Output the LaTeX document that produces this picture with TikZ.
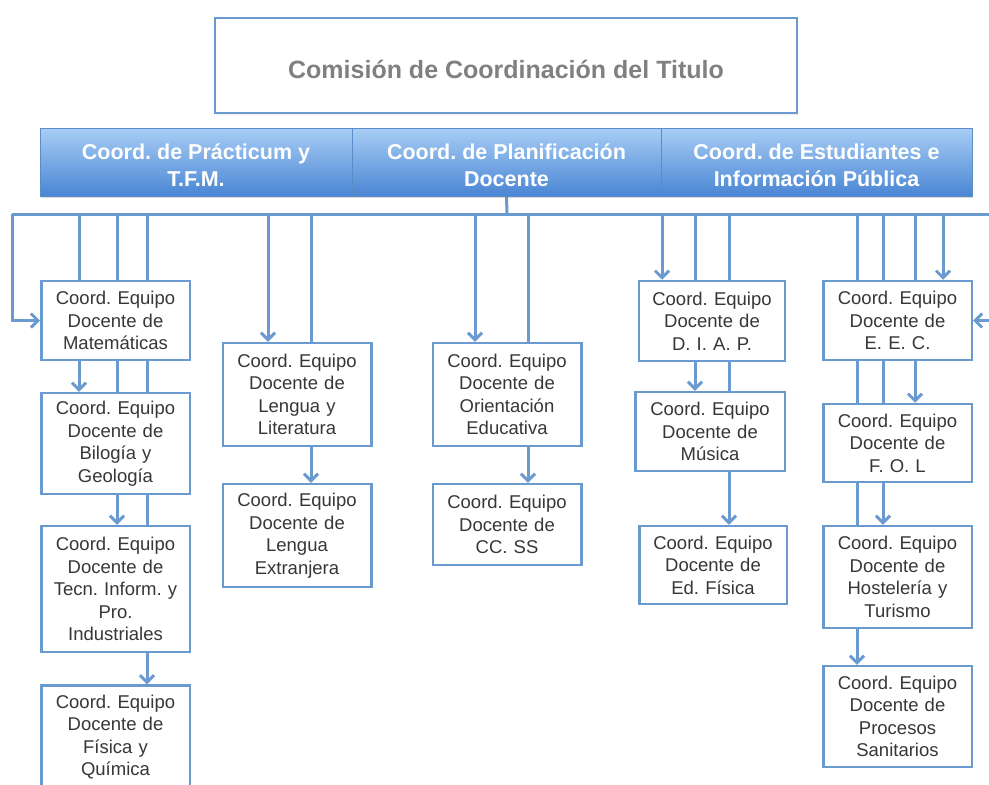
\documentclass[tikz,border=0pt]{standalone}
\usepackage{fontspec}
\setmainfont{Liberation Sans}
\usetikzlibrary{arrows.meta,shadows}
\pgfdeclarelayer{background}
\pgfsetlayers{background,main}
\definecolor{lnc}{RGB}{106,154,208}
\definecolor{txt}{RGB}{55,55,55}
\definecolor{ttl}{RGB}{128,128,128}
\definecolor{bartop}{RGB}{168,205,245}
\definecolor{barbot}{RGB}{74,134,212}
\definecolor{barline}{RGB}{90,140,200}
\newcommand{\lowered}[1]{\raisebox{-3.5pt}[\height][\depth]{#1}}
\newcommand{\bartext}[1]{\lowered{\parbox{295pt}{\centering #1}}}
\begin{document}
\frenchspacing
\begin{tikzpicture}[x=1pt,y=-1pt,
  box/.style={draw=lnc, line width=2.5pt, fill=white, minimum width=148.5pt,
    text width=146pt, align=center, inner sep=0pt, text=txt,
    font=\fontsize{18.5}{22.5}\selectfont},
  barbox/.style={draw=barline, line width=0.8pt, top color=bartop, bottom color=barbot,
    minimum height=68pt, inner sep=0pt, text=white,
    font=\bfseries\fontsize{21.5}{27}\selectfont},
  titlebox/.style={draw=lnc, line width=2pt, fill=white, minimum width=582pt,
    minimum height=95pt, inner sep=0pt, text=ttl,
    font=\bfseries\fontsize{25}{30}\selectfont},
  conn/.style={draw=lnc, line width=3pt, line join=miter},
  arr/.style={conn, -{Straight Barb[length=7pt,width=14pt,line width=3pt]}}]
\useasboundingbox (0,0) rectangle (989,785);
\clip (0,0) rectangle (989,785);

% title and bar
\node[titlebox, drop shadow={opacity=0.15, shadow xshift=1pt, shadow yshift=-1.5pt}] (title) at (506,65.5) {\lowered{Comisión de Coordinación del Titulo}};
\node[barbox, minimum width=312pt, drop shadow={opacity=0.3, shadow xshift=1pt, shadow yshift=-2pt}] (bar1) at (196,162) {\bartext{Coord. de Prácticum y\\T.F.M.}};
\node[barbox, minimum width=309pt, drop shadow={opacity=0.3, shadow xshift=1pt, shadow yshift=-2pt}] (bar2) at (506.5,162) {\bartext{Coord. de Planificación\\Docente}};
\node[barbox, minimum width=311pt, drop shadow={opacity=0.3, shadow xshift=1pt, shadow yshift=-2pt}] (bar3) at (816.5,162) {\bartext{Coord. de Estudiantes e\\Información Pública}};

% column 1
\node[box, minimum height=79pt] (mat) at (115.5,320.5) {Coord. Equipo\\Docente de\\Matemáticas};
\node[box, minimum height=101pt] (bio) at (115.5,443.5) {Coord. Equipo\\Docente de\\Bilogía y\\Geología};
\node[box, minimum height=126pt] (tec) at (115.5,589) {Coord. Equipo\\Docente de\\Tecn. Inform. y\\Pro.\\Industriales};
\node[box, minimum height=103pt] (fis) at (115.5,737) {Coord. Equipo\\Docente de\\Física y\\Química};
% column 2
\node[box, minimum height=103pt] (lyl) at (297,394.5) {Coord. Equipo\\Docente de\\Lengua y\\Literatura};
\node[box, minimum height=103pt] (lex) at (297,535.5) {Coord. Equipo\\Docente de\\Lengua\\Extranjera};
% column 3
\node[box, minimum height=103pt] (ori) at (507,394.5) {Coord. Equipo\\Docente de\\Orientación\\Educativa};
\node[box, minimum height=81pt] (ccs) at (507,524.5) {Coord. Equipo\\Docente de\\CC. SS};
% column 4
\node[box, minimum width=145.5pt, minimum height=80pt] (dia) at (712,321) {Coord. Equipo\\Docente de\\D. I. A. P.};
\node[box, minimum width=149.5pt, minimum height=79pt] (mus) at (710,431.5) {Coord. Equipo\\Docente de\\Música};
\node[box, minimum width=147.5pt, minimum height=78pt] (edf) at (713,565) {Coord. Equipo\\Docente de\\Ed. Física};
% column 5
\node[box, minimum height=79pt] (eec) at (897.5,320.5) {Coord. Equipo\\Docente de\\E. E. C.};
\node[box, minimum height=78pt] (fol) at (897.5,443) {Coord. Equipo\\Docente de\\F. O. L};
\node[box, minimum height=102pt] (hos) at (897.5,577) {Coord. Equipo\\Docente de\\Hostelería y\\Turismo};
\node[box, minimum height=101pt] (pro) at (897.5,716.5) {Coord. Equipo\\Docente de\\Procesos\\Sanitarios};

\begin{pgfonlayer}{background}
  \coordinate (hub) at (507,214);
  \coordinate (L) at (12,214);
  \coordinate (R) at (993,214);
  \draw[conn] (bar2.south) -- (hub);
  \draw[conn] (L) -- (R);
  \draw[arr] (L) |- (mat.west);
  \draw[arr] (R) |- (eec.east);
  \foreach \x/\t in {79/bio,117/tec,147/fis,268/lyl,311/lex,475/ori,528/ccs,
                     662/dia,695/mus,729/edf,857/pro,883/hos,915/fol,943/eec}{
    \coordinate (t\t) at (\x,214);
    \draw[arr] (t\t) -- (t\t |- \t.north);
  }
\end{pgfonlayer}
\end{tikzpicture}
\end{document}
